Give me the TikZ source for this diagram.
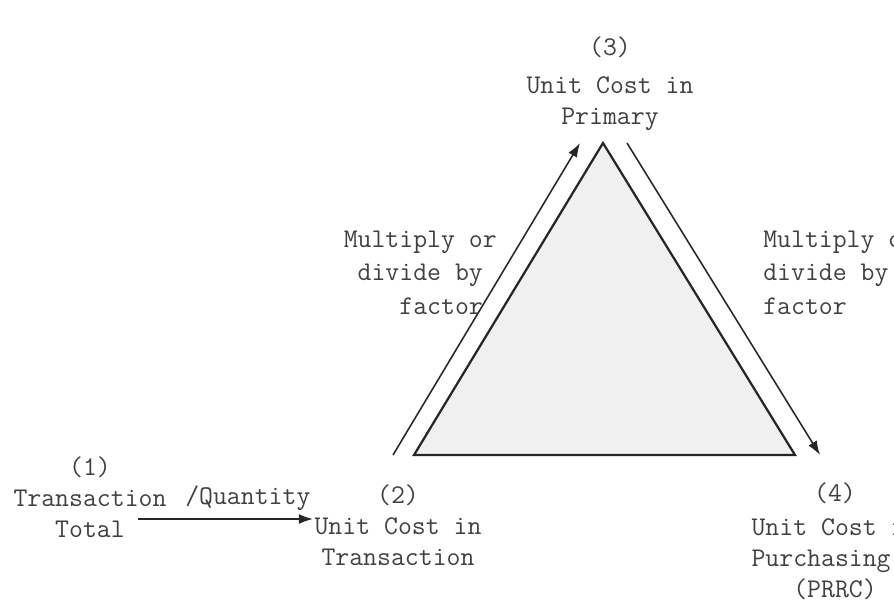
\documentclass[tikz,border=0pt]{standalone}
\usepackage{fontspec}
\usetikzlibrary{arrows.meta}
\tikzset{
    lbl/.style={
        font=\ttfamily\fontsize{19.2}{22}\selectfont,
        text=black!75,
        inner sep=0pt,
        align=center
    },
    tri/.style={
        draw=black!85,
        line width=1.6pt,
        fill=black!6,
        line join=miter
    },
    conv/.style={
        draw=black!85,
        line width=1.1pt,
        -{Latex[length=10pt,width=7pt]}
    }
}

\begin{document}
\begin{tikzpicture}[x=0.025cm,y=-0.025cm]
\clip (0,0) rectangle (894,601);
% corners of the triangle
\coordinate (prim) at (603,143);
\coordinate (trans) at (414,455);
\coordinate (purch) at (795,455);
\draw[tri] (trans) -- (prim) -- (purch) -- cycle;
% conversion arrows
\coordinate (la0) at (393,455);
\coordinate (la1) at (580,143);
\coordinate (ra0) at (627,143);
\coordinate (ra1) at (820,455);
\draw[conv] (la0) -- (la1);
\draw[conv] (ra0) -- (ra1);
\coordinate (qa0) at (138,519);
\coordinate (qa1) at (313,519);
\draw[conv] (qa0) -- (qa1);
% labels (anchored at the baseline of the last line)
\node[lbl, anchor=base] (lprim) at (610,124) {(3)\\[5pt]Unit Cost in\\Primary};
\node[lbl, anchor=base east, align=right] (lfacl) at (497,314) {Multiply or\\[1.5pt]divide by\hphantom{x}\\[1.5pt]factor\hphantom{x}};
\node[lbl, anchor=base west, align=left] (lfacr) at (763,314) {Multiply or\\[1.5pt]divide by\\[1.5pt]factor};
\node[lbl, anchor=base] (ltot) at (90,537) {(1)\\Transaction\\Total};
\node[lbl, anchor=base west] (lqty) at (185,504) {/Quantity};
\node[lbl, anchor=base] (ltrans) at (398,565) {(2)\\Unit Cost in\\Transaction};
\node[lbl, anchor=base] (lpurch) at (835,597) {(4)\\[2pt]Unit Cost in\\Purchasing\hphantom{xx}\\(PRRC)};
\end{tikzpicture}
\end{document}
